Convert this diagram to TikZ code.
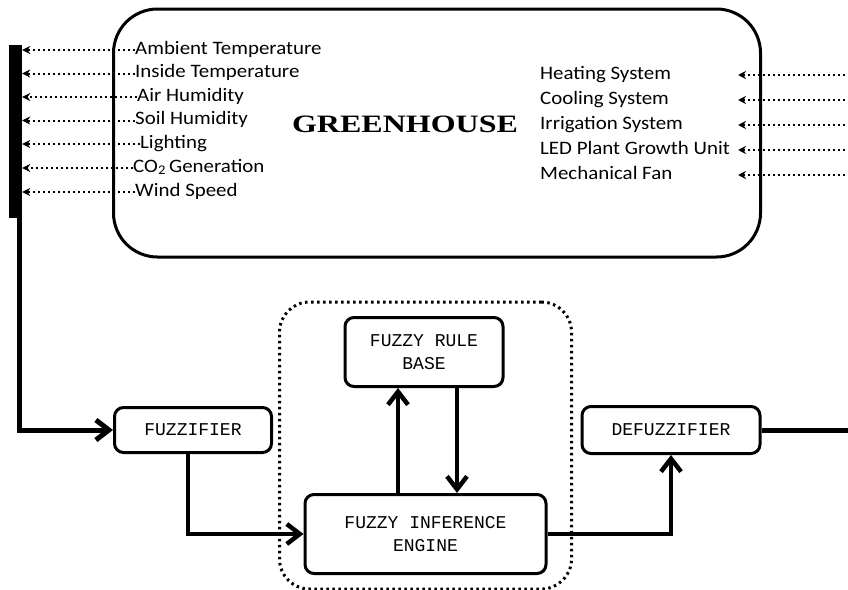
\documentclass[tikz,border=0pt]{standalone}
\usepackage{fontspec}
\usetikzlibrary{arrows.meta,positioning,fit}
\newfontfamily\lblfont[FakeStretch=1.1]{Carlito}
\newfontfamily\boxfont{Liberation Mono}
\newfontfamily\titlefont[FakeStretch=1.28]{Liberation Serif}

\begin{document}
\begin{tikzpicture}[x=1pt,y=-1pt,
  >={Straight Barb[length=13pt,width=20pt]},
  sig/.style={line width=2pt,dash pattern=on 2pt off 3pt,-{Stealth[length=8pt,width=8pt]}},
  inlbl/.style={anchor=west,inner sep=0pt,text height=12pt,text depth=4pt,font=\lblfont\fontsize{19}{23}\selectfont},
  blk/.style={draw,rounded corners=9pt,line width=3pt,align=center,inner sep=0pt,font=\boxfont\fontsize{18}{23}\selectfont},
  flow/.style={->,line width=4.5pt}]
  \useasboundingbox (0,0) rectangle (848,589);

  % greenhouse and its signals
  \node[draw,line width=3pt,rounded corners=44pt,minimum width=647pt,minimum height=248pt] (gh) at (437,133) {};
  \node[font=\titlefont\bfseries\fontsize{25}{28}\selectfont] (title) at (405,124) {GREENHOUSE};

  \node[inlbl] (amb) at (135,50) {Ambient Temperature};
  \node[inlbl] (ins) at (135,73.5) {Inside Temperature};
  \node[inlbl] (air) at (137,97) {Air Humidity};
  \node[inlbl] (soil) at (135,120.5) {Soil Humidity};
  \node[inlbl] (light) at (140,144) {Lighting};
  \node[inlbl] (co2) at (133,168) {CO\textsubscript{2}\,Generation};
  \node[inlbl] (wind) at (135,192) {Wind Speed};

  \node[inlbl] (heat) at (540,75) {Heating System};
  \node[inlbl] (cool) at (540,100) {Cooling System};
  \node[inlbl] (irr) at (540,125) {Irrigation System};
  \node[inlbl] (led) at (540,150) {LED Plant Growth Unit};
  \node[inlbl] (fan) at (540,175) {Mechanical Fan};

  \node[fill=black,inner sep=0pt,minimum width=13pt,minimum height=173pt] (bus) at (15.5,131.5) {};
  \coordinate (rbus) at (855,300);
  \coordinate (rtip) at (738,0);

  \draw[sig] (amb.west) -- (amb.west -| bus.east);
  \draw[sig] (ins.west) -- (ins.west -| bus.east);
  \draw[sig] (air.west) -- (air.west -| bus.east);
  \draw[sig] (soil.west) -- (soil.west -| bus.east);
  \draw[sig] (light.west) -- (light.west -| bus.east);
  \draw[sig] (co2.west) -- (co2.west -| bus.east);
  \draw[sig] (wind.west) -- (wind.west -| bus.east);

  \draw[sig] (heat -| rbus) -- (heat -| rtip);
  \draw[sig] (cool -| rbus) -- (cool -| rtip);
  \draw[sig] (irr -| rbus) -- (irr -| rtip);
  \draw[sig] (led -| rbus) -- (led -| rtip);
  \draw[sig] (fan -| rbus) -- (fan -| rtip);

  % fuzzy controller
  \node[blk,minimum width=157pt,minimum height=45pt] (fuzz) at (193,430) {FUZZIFIER};
  \node[blk,minimum width=158pt,minimum height=69pt] (rule) at (424,352) {FUZZY RULE\\BASE};
  \node[blk,minimum width=241pt,minimum height=79pt] (fie) at (425.5,534) {FUZZY INFERENCE\\ENGINE};
  \node[blk,minimum width=178pt,minimum height=47pt] (defuzz) at (671,430) {DEFUZZIFIER};
  \node[draw,line width=3pt,dash pattern=on 2.5pt off 3.5pt,rounded corners=30pt,fit=(rule)(fie),inner xsep=24pt,inner ysep=14pt] (core) {};

  \draw[flow,line width=5pt] ([xshift=4pt]bus.south) |- (fuzz.west);
  \draw[flow] ([xshift=-5pt]fuzz.south) |- (fie.west);
  \draw[flow] ([xshift=-26pt]rule.south |- fie.north) -- ([xshift=-26pt]rule.south);
  \draw[flow] ([xshift=33pt]rule.south) -- ([xshift=33pt]rule.south |- fie.north);
  \draw[flow] (fie.east) -| (defuzz.south);
  \draw[line width=5pt] (defuzz.east) -| (rbus |- heat);
\end{tikzpicture}
\end{document}
